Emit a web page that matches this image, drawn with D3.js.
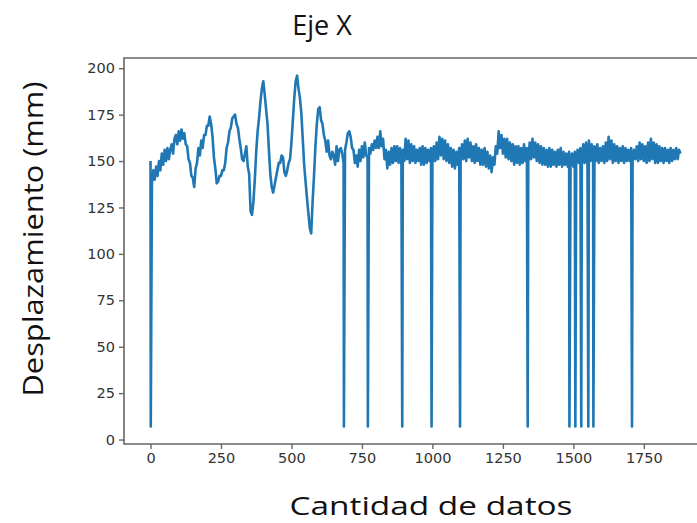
<!DOCTYPE html>
<html lang="es">
<head>
<meta charset="UTF-8">
<title>Eje X</title>
<script src="https://cdn.jsdelivr.net/npm/d3@7"></script>
<style>
    body{ margin:0; background:#fff; }
    .tick text{ font-family:"DejaVu Sans",sans-serif; font-size:14.5px; fill:#333; }
    .tick line{ stroke:#666; stroke-width:1.4; }
    .lbl{ font-family:"Open Sans","Noto Sans",sans-serif; fill:#111; }
</style>
</head>
<body>
<script>
    // desplazamiento leido cada 5 datos
    var paso = 5;
    var desplazamiento = [
        150,138,145,140,147,142,150,145,154,148,156,150,157,151,156,159,154,162,164,159,
        166,161,167,162,165,159,158,151,149,142,141,136,146,149,157,153,161,157,164,164,
        169,169,174,170,163,152,146,138,139,142,142,145,145,149,157,160,166,168,173,174,
        175,170,168,162,157,151,150,154,158,147,143,123,121,128,140,155,166,173,182,189,
        193,186,178,170,156,143,136,133,137,141,145,149,149,153,152,144,142,145,149,151,
        160,172,184,193,196,189,184,176,162,148,139,130,122,114,111,128,142,158,170,178,
        179,172,170,164,161,155,161,153,151,155,153,148,158,150,156,157,154,149,156,160,
        165,166,163,157,156,149,153,147,156,150,158,152,160,153,152,157,154,159,156,161,
        157,163,157,166,158,162,151,156,146,155,148,157,149,158,150,158,149,157,148,156,
        150,162,151,161,149,159,150,158,149,156,150,157,148,158,148,157,149,156,150,157,
        149,158,150,160,151,163,153,162,151,161,150,159,149,157,147,156,146,155,148,157,
        150,159,151,161,150,162,152,160,150,158,149,159,150,157,148,156,148,157,147,155,
        146,153,144,152,148,158,154,166,157,164,154,162,152,162,151,160,150,159,148,158,
        149,158,148,157,149,159,150,157,149,160,151,162,152,160,150,159,149,158,148,157,
        148,156,147,157,147,156,148,155,147,156,148,157,147,155,148,154,147,155,148,154,
        147,155,148,156,149,157,148,159,149,160,148,161,150,159,149,158,150,159,149,157,
        150,158,149,160,150,163,151,161,149,159,150,158,149,157,150,158,149,157,150,156,
        150,157,150,156,151,158,150,160,151,159,150,158,149,160,150,162,151,160,149,159,
        149,158,150,157,149,157,150,156,149,157,150,156,151,157,151,156,154
    ];
    // caidas a casi cero
    var caidas = [1, 686, 771, 893, 997, 1098, 1338, 1486, 1507, 1528, 1553, 1571, 1708];
    var valorCaida = 7;
    var ticksX = [0, 250, 500, 750, 1000, 1250, 1500, 1750];
    var ticksY = [0, 25, 50, 75, 100, 125, 150, 175, 200];

    (function(){
    var width = 697, height = 523;
    var mLeft = 124, mRight = 707, mTop = 58, mBottom = 444;

    var puntos = desplazamiento.map(function(v, i){ return {x: i * paso, y: v}; });
    caidas.forEach(function(c){ puntos.push({x: c, y: valorCaida}); });
    puntos.sort(function(a, b){ return a.x - b.x; });

    var x = d3.scaleLinear().domain([-94, 1974]).range([mLeft, mRight]);
    var y = d3.scaleLinear().domain([-2.4, 205.5]).range([mBottom, mTop]);

    var svg = d3.select('body').append('svg')
        .attr('width', width)
        .attr('height', height);

    svg.append('clipPath').attr('id', 'area')
        .append('rect')
        .attr('x', mLeft).attr('y', mTop)
        .attr('width', mRight - mLeft).attr('height', mBottom - mTop);

    var linea = d3.line()
        .x(function(d){ return x(d.x); })
        .y(function(d){ return y(d.y); });

    svg.append('path')
        .datum(puntos)
        .attr('clip-path', 'url(#area)')
        .attr('d', linea)
        .attr('fill', 'none')
        .attr('stroke', '#1f77b4')
        .attr('stroke-width', 2.6)
        .attr('stroke-linejoin', 'round');

    var ejeX = svg.append('g')
        .attr('transform', 'translate(0,' + mBottom + ')')
        .call(d3.axisBottom(x).tickValues(ticksX).tickSize(5).tickPadding(4).tickFormat(d3.format('d')));
    ejeX.select('.domain').remove();

    var ejeY = svg.append('g')
        .attr('transform', 'translate(' + mLeft + ',0)')
        .call(d3.axisLeft(y).tickValues(ticksY).tickSize(5).tickPadding(4).tickFormat(d3.format('d')));
    ejeY.select('.domain').remove();

    // bordes (el derecho queda fuera de la imagen)
    svg.append('path')
        .attr('d', 'M' + mRight + ',' + mTop + 'H' + mLeft + 'V' + mBottom + 'H' + mRight)
        .attr('fill', 'none')
        .attr('stroke', '#666')
        .attr('stroke-width', 1.6);

    svg.append('text').attr('class', 'lbl')
        .attr('x', 322).attr('y', 35)
        .attr('text-anchor', 'middle')
        .style('font-size', '27px')
        .text('Eje X');

    svg.append('text').attr('class', 'lbl')
        .attr('x', 431).attr('y', 515)
        .attr('text-anchor', 'middle')
        .attr('textLength', 283)
        .attr('lengthAdjust', 'spacingAndGlyphs')
        .style('font-size', '26px')
        .text('Cantidad de datos');

    svg.append('text').attr('class', 'lbl')
        .attr('transform', 'translate(43,239) rotate(-90)')
        .attr('text-anchor', 'middle')
        .attr('textLength', 315)
        .attr('lengthAdjust', 'spacingAndGlyphs')
        .style('font-size', '28px')
        .text('Desplazamiento (mm)');
    })();
</script>
</body>
</html>
